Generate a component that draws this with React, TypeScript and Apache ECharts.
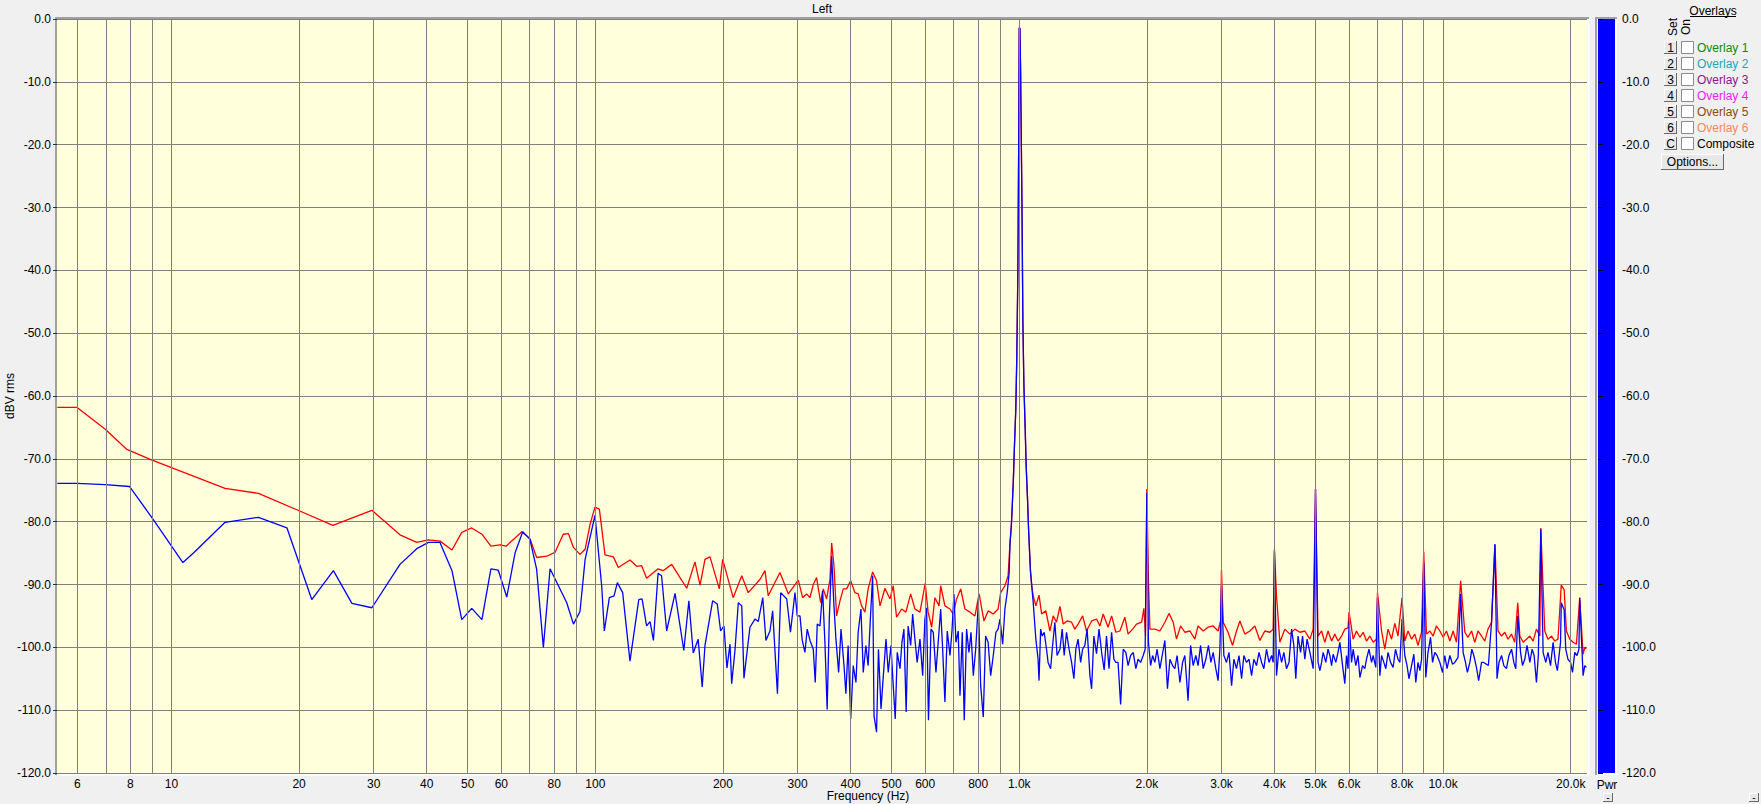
import React, { useEffect, useRef } from "react";
import * as echarts from "echarts";

const FONT = '"Liberation Sans", Arial, sans-serif';

// ---- Spectrum data: [frequency Hz, level dBV] ----
const redLow: [number, number][] = [
  [5.38, -61.8], [5.98, -61.8], [6.98, -65.3], [7.85, -68.5], [8.91, -70.1], [10.0, -71.4],
  [13.38, -74.7], [16.04, -75.5], [19.76, -78.1], [24.03, -80.6], [29.7, -78.2],
];
const redMid: [number, number][] = [
  [34.6, -82.1], [37.9, -83.3], [40.4, -82.9], [43.0, -83.1], [45.9, -84.5], [48.4, -81.7],
  [51.1, -81.0], [54.0, -82.0], [56.7, -83.9], [59.6, -83.7], [61.6, -83.9], [67.1, -81.6],
  [70.1, -82.7], [72.7, -85.7], [76.8, -85.5], [80.3, -84.9], [84.0, -82.0], [86.4, -81.9],
  [88.8, -84.1], [92.0, -85.2], [94.6, -84.4], [97.2, -80.4], [99.8, -77.7], [102.2, -78.0],
  [105.4, -85.3], [110.3, -85.6], [113.3, -87.3], [120.7, -86.1], [125.2, -87.1], [128.6, -87.0],
  [132.1, -89.0], [140.6, -87.5], [144.5, -87.8], [151.4, -86.8], [158.4, -88.9], [164.3, -90.6],
  [171.8, -86.4], [176.6, -90.1], [181.4, -86.0], [186.4, -85.6], [196.1, -90.7], [199.7, -86.0],
  [211.4, -92.1], [221.5, -88.6], [229.5, -91.3], [244.5, -89.2], [251.3, -87.8], [255.8, -91.8],
  [272.6, -88.1], [285.3, -91.5], [301.1, -89.3],
];
const redUpper: [number, number][] = [
  [308.4, -92.1], [315.0, -91.5], [320.9, -92.1], [326.7, -90.0], [332.6, -88.9], [340.1, -92.9],
  [344.9, -90.7], [351.2, -92.3], [357.7, -89.2], [361.0, -83.4], [365.5, -87.0], [370.8, -95.0],
  [377.7, -92.6], [384.5, -90.7], [391.5, -90.7], [400.3, -89.4], [409.7, -91.3], [416.9, -91.5],
  [424.9, -93.4], [432.5, -94.4], [440.1, -90.7], [451.0, -88.0], [460.7, -89.4], [469.4, -93.4],
  [482.2, -90.6], [495.5, -92.3], [504.4, -90.2], [513.6, -95.2], [528.1, -93.9], [540.3, -94.4],
  [554.5, -91.5], [567.4, -93.9], [583.2, -94.4], [600.1, -89.8], [609.6, -94.4], [621.5, -96.8],
  [632.6, -92.1], [647.0, -93.4], [652.7, -90.2], [667.9, -93.4], [686.5, -93.9], [698.9, -94.7],
  [711.6, -92.3], [727.6, -90.7], [744.5, -93.9], [765.3, -94.4], [786.1, -95.0], [804.1, -91.5],
  [825.6, -95.8], [844.5, -94.2], [868.5, -94.7], [891.7, -93.9], [904.1, -91.3], [925.2, -90.2],
  [941.4, -88.6],
];
const fundamental: [number, number][] = [
  [951, -83.5], [958, -80.7], [963, -77.4], [968.7, -73.3], [974, -68.3], [981.5, -62.1],
  [987, -53.6], [992.5, -40.6], [997.7, -17.0], [1000, -1.4], [1004, -1.5], [1007.6, -8.6],
  [1014.7, -28.8], [1020, -48.1], [1025.7, -58.3], [1033, -65.3], [1038.5, -71.2], [1046, -76.3],
  [1051.8, -81.0], [1057.4, -84.5], [1063, -87.9], [1071, -90.4],
];
const redHigh: [number, number][] = [
  [1078.9, -91.8], [1094.5, -93.4], [1113.6, -91.7], [1129.4, -94.7], [1155.6, -94.2], [1181.4, -97.4],
  [1202.7, -95.0], [1224.5, -96.0], [1247.4, -93.5], [1269.9, -96.3], [1297.1, -95.8], [1329.2, -96.0],
  [1352.8, -97.1], [1376.7, -96.3], [1411.1, -95.0], [1441.4, -97.4], [1481.8, -95.8], [1521.8, -95.5],
  [1550.1, -96.6], [1578.0, -94.7], [1620.3, -96.8], [1651.8, -95.0], [1690.1, -97.6], [1728.0, -97.4],
  [1775.0, -95.2], [1806.3, -97.9], [1851.2, -97.1], [1891.0, -96.3], [1944.2, -96.0], [1968.3, -93.8],
  [1986.0, -98.2], [2017.6, -89.4], [2033.8, -97.1], [2089.1, -97.1], [2147.3, -97.4], [2205.7, -96.0],
  [2256.2, -94.6], [2307.9, -96.0], [2349.8, -98.7], [2402.8, -96.6], [2458.8, -97.6], [2527.2, -97.4],
  [2596.0, -98.7], [2641.7, -96.6], [2716.3, -97.4], [2789.2, -96.8], [2867.9, -96.6], [2944.8, -97.4],
  [2985.8, -95.8], [3028.0, -96.0], [3109.3, -97.6], [3186.7, -99.7], [3255.1, -97.4], [3315.8, -95.8],
  [3406.0, -97.9], [3500.8, -97.4], [3596.0, -96.6], [3696.2, -98.9], [3796.7, -97.4], [3902.5, -97.6],
  [3972.7, -97.1], [4045.0, -91.8], [4120.4, -99.2], [4232.5, -97.1], [4350.3, -97.9], [4468.6, -97.1],
  [4593.1, -97.6], [4718.0, -97.4], [4849.5, -98.7],
];
const redTop: [number, number][] = [
  [4936.8, -97.1], [5069.2, -98.2], [5167.7, -97.4], [5259.4, -99.2], [5352.0, -97.4], [5456.2, -99.0],
  [5552.9, -97.9], [5650.8, -99.0], [5760.7, -98.2], [5862.9, -97.1], [5966.2, -96.9], [6134.6, -98.7],
  [6246.1, -97.4], [6362.5, -98.4], [6477.0, -97.6], [6594.7, -99.0], [6717.6, -98.2], [6838.5, -99.2],
  [6962.8, -98.7], [7158.5, -97.4], [7285.4, -100.3], [7413.8, -97.1], [7558.0, -98.7], [7692.0, -96.2],
  [7827.5, -98.2], [8121.3, -99.0], [8264.5, -97.4], [8425.1, -98.7], [8574.5, -97.9], [8725.6, -99.7],
  [8895.4, -97.6], [9135.1, -97.9], [9305.3, -97.4], [9472.8, -98.2], [9645.0, -96.6], [9824.6, -97.4],
  [10001, -98.4], [10183, -97.4], [10373, -99.0], [10560, -97.4], [10752, -99.2], [11250, -97.6],
  [11448, -98.4], [11671, -97.4], [11878, -99.2], [12087, -97.4], [12322, -98.2], [12540, -99.0],
  [12761, -97.1], [13010, -96.0], [13474, -97.4], [13736, -98.2], [13979, -97.6], [14226, -98.7],
  [14503, -97.9], [14760, -99.2], [15171, -98.2], [15444, -99.2], [15725, -98.7], [16017, -98.2],
  [16305, -99.0], [16602, -97.1], [16911, -98.2], [17371, -97.4], [17677, -98.7], [18021, -98.2],
  [18341, -99.0], [18664, -98.7], [19540, -97.4], [19904, -98.7], [20262, -99.2], [20630, -99.5],
  [21392, -101.1], [21586, -100.0], [21781, -100.2],
];
const redHarmonics: [number, number][] = [
  [2000, -74.8], [3000, -87.7], [4000, -84.4], [5000, -74.8], [6000, -94.4], [7000, -91.3],
  [8000, -92.1], [9000, -84.8], [11000, -89.4], [13250, -83.6], [15000, -92.9], [17000, -81.0],
  [19000, -90.1], [19300, -90.8], [21000, -92.1],
];

const blueLow: [number, number][] = [
  [5.38, -73.9], [5.98, -73.9], [6.98, -74.1], [7.96, -74.4], [9.07, -79.7], [10.64, -86.5],
  [11.27, -85.0], [13.38, -80.1], [16.04, -79.3], [18.73, -81.0], [21.43, -92.4], [24.1, -87.8],
  [26.65, -93.0], [29.7, -93.7],
];
const blueMid: [number, number][] = [
  [34.6, -86.8], [37.9, -84.3], [40.4, -83.3], [43.0, -83.3], [45.9, -87.8], [48.4, -95.6],
  [51.1, -93.8], [54.0, -95.6], [56.7, -87.5], [59.0, -87.7], [61.8, -92.0], [64.7, -84.9],
  [67.4, -81.6], [70.1, -82.8], [72.7, -87.6], [75.4, -100.0], [78.2, -87.5], [85.6, -92.9],
  [88.8, -96.3], [92.0, -94.3], [94.6, -86.0], [99.8, -79.0], [103.5, -90.2], [105.0, -97.4],
  [107.9, -92.1], [110.7, -91.8], [112.7, -89.7], [116.0, -91.3], [120.7, -102.2], [126.6, -92.4],
  [128.9, -92.3], [132.1, -96.6], [134.6, -95.9], [137.1, -98.9], [140.6, -88.2], [143.3, -88.6],
  [147.3, -97.4], [154.2, -91.4], [161.7, -100.5], [166.2, -92.6], [170.2, -100.9], [174.8, -98.7],
  [178.7, -106.3], [181.4, -99.7], [189.1, -92.6], [193.9, -93.1], [197.5, -97.4], [201.1, -96.6],
  [204.4, -103.3], [207.8, -99.5], [209.7, -105.8], [213.5, -100.5], [217.4, -92.9], [221.5, -93.4],
  [224.2, -104.9], [231.6, -96.8], [238.0, -95.5], [242.3, -95.9], [248.3, -92.1], [252.6, -98.9],
  [258.2, -97.4], [262.0, -94.2], [268.9, -107.4], [273.7, -91.3], [282.8, -92.3], [288.6, -97.6],
  [295.8, -91.3], [299.5, -95.0],
];
const blueUpper: [number, number][] = [
  [303.9, -95.0], [307.7, -98.9], [312.2, -100.8], [316.1, -97.1], [320.9, -98.9], [326.7, -100.3],
  [330.2, -105.6], [333.8, -96.3], [338.8, -96.6], [343.7, -91.0], [348.0, -99.2], [352.3, -109.9],
  [356.4, -95.5], [361.0, -85.5], [365.5, -93.4], [369.5, -98.7], [374.9, -104.0], [379.8, -97.1],
  [386.0, -102.9], [390.0, -107.4], [394.8, -99.7], [400.3, -111.4], [405.9, -102.9], [411.9, -105.6],
  [416.9, -97.6], [423.3, -93.9], [428.6, -104.0], [434.7, -99.7], [440.1, -102.9], [445.8, -95.0],
  [451.0, -88.6], [454.4, -110.9], [460.7, -113.5], [465.5, -100.3], [472.0, -109.8], [478.0, -104.5],
  [484.9, -98.7], [490.9, -104.0], [498.2, -99.7], [504.4, -106.1], [509.9, -111.4], [515.5, -100.8],
  [523.2, -103.4], [528.9, -99.2], [534.5, -97.1], [541.1, -110.3], [546.9, -96.6], [554.5, -99.7],
  [560.5, -94.7], [567.4, -98.7], [574.4, -102.4], [583.2, -98.7], [591.8, -104.5], [599.1, -95.5],
  [604.5, -93.7], [610.8, -111.6], [619.2, -97.1], [626.9, -97.6], [636.1, -104.0], [643.9, -99.2],
  [652.7, -93.9], [659.7, -100.3], [667.9, -108.7], [676.4, -97.4], [686.5, -101.3], [694.0, -97.4],
  [701.5, -91.5], [709.0, -99.2], [717.9, -97.4], [724.8, -107.7], [733.9, -97.6], [741.8, -111.6],
  [751.3, -97.1], [760.9, -100.8], [769.5, -97.6], [779.3, -104.5], [789.3, -100.3], [800.8, -92.9],
  [811.0, -106.1], [822.6, -111.1], [833.1, -98.2], [844.5, -99.2], [856.3, -104.5], [868.5, -101.3],
  [881.1, -97.6], [891.7, -97.1], [900.7, -95.5], [913.9, -99.5], [925.2, -93.9], [936.7, -91.3],
  [946.9, -88.1],
];
const blueFundTail: [number, number][] = [[1079, -92.9]];
const blueHigh: [number, number][] = [
  [1094.5, -98.7], [1107.8, -101.9], [1113.6, -105.3], [1123.3, -97.1], [1133.0, -98.2], [1145.2, -97.6],
  [1159.8, -100.3], [1169.7, -102.4], [1185.9, -103.4], [1198.8, -99.7], [1213.5, -96.0], [1228.4, -101.3],
  [1247.4, -100.3], [1263.0, -97.1], [1276.6, -101.3], [1292.9, -97.6], [1310.6, -100.3], [1329.2, -102.4],
  [1345.7, -105.0], [1360.1, -100.3], [1376.7, -98.7], [1395.9, -102.4], [1411.1, -100.3], [1428.4, -99.7],
  [1446.0, -97.1], [1468.2, -104.5], [1481.8, -106.6], [1500.2, -98.2], [1521.8, -101.0], [1542.6, -97.1],
  [1564.5, -100.8], [1586.4, -103.6], [1606.7, -98.2], [1628.7, -103.4], [1651.8, -97.6], [1672.3, -101.9],
  [1690.1, -102.4], [1710.7, -102.4], [1734.6, -109.1], [1759.1, -100.3], [1784.5, -100.8], [1806.3, -102.9],
  [1831.3, -101.3], [1857.2, -100.8], [1884.1, -103.4], [1907.1, -101.9], [1933.6, -102.4], [1961.0, -101.3],
  [1982.0, -100.3], [2017.6, -99.2], [2041.5, -102.9], [2063.7, -101.3], [2089.1, -102.4], [2114.7, -100.3],
  [2147.3, -103.4], [2174.1, -101.3], [2205.7, -98.9], [2237.3, -106.6], [2267.1, -101.9], [2300.4, -102.9],
  [2328.8, -103.4], [2357.3, -101.3], [2393.7, -105.6], [2428.9, -102.4], [2458.8, -101.3], [2502.1, -108.5],
  [2536.8, -99.7], [2572.7, -102.9], [2609.8, -101.3], [2641.7, -102.9], [2678.4, -99.7], [2716.3, -103.4],
  [2755.6, -101.9], [2794.8, -99.7], [2832.4, -102.4], [2867.9, -100.8], [2909.3, -103.4], [2944.8, -105.3],
  [2974.5, -100.3], [3039.4, -101.3], [3083.1, -102.4], [3125.3, -100.8], [3169.7, -106.1], [3209.0, -101.9],
  [3255.1, -103.4], [3299.7, -101.3], [3346.6, -105.0], [3388.1, -101.3], [3436.8, -102.4], [3483.9, -101.9],
  [3533.4, -104.5], [3577.1, -101.9], [3628.6, -102.9], [3678.3, -100.8], [3730.6, -102.4], [3776.8, -103.4],
  [3831.1, -100.3], [3883.6, -102.4], [3938.8, -101.3], [3972.7, -102.4], [4045.0, -104.5], [4100.4, -100.3],
  [4158.7, -102.4], [4210.2, -100.8], [4270.8, -103.4], [4329.3, -102.4], [4390.8, -97.1], [4445.1, -99.7],
  [4492.6, -105.0], [4547.4, -98.2], [4610.6, -100.8], [4660.6, -98.2], [4718.0, -101.9], [4775.9, -98.7],
  [4849.5, -100.8],
];
const blueTop: [number, number][] = [
  [4936.8, -103.4], [5069.2, -102.4], [5120.1, -103.7], [5167.7, -102.4], [5212.3, -100.8], [5287.5, -102.4],
  [5352.0, -100.3], [5405.9, -101.3], [5456.2, -102.9], [5503.2, -101.1], [5582.7, -102.4], [5650.8, -100.8],
  [5707.6, -99.2], [5791.5, -102.9], [5862.9, -105.8], [5916.0, -101.3], [5966.2, -103.4], [6082.1, -102.4],
  [6134.6, -100.3], [6223.1, -102.9], [6299.1, -101.3], [6362.5, -104.8], [6456.0, -102.9], [6535.6, -103.4],
  [6594.7, -101.9], [6685.1, -100.3], [6780.1, -102.4], [6838.5, -101.3], [6937.3, -103.2], [7092.5, -104.5],
  [7158.5, -101.3], [7247.1, -102.4], [7324.4, -103.4], [7413.8, -100.8], [7516.8, -102.4], [7623.1, -103.2],
  [7720.4, -100.3], [7827.5, -101.9], [7906.3, -102.4], [8121.3, -101.3], [8221.0, -102.9], [8307.2, -105.0],
  [8425.1, -102.9], [8529.5, -101.1], [8620.5, -105.6], [8725.6, -102.4], [8813.4, -103.7], [8895.4, -101.9],
  [9101.6, -104.8], [9212.7, -100.8], [9340.7, -98.4], [9442.1, -102.4], [9558.4, -100.8], [9675.6, -101.3],
  [9824.6, -102.4], [9969.0, -104.0], [10092, -101.3], [10216, -103.4], [10373, -101.3], [10525, -102.7],
  [10655, -102.4], [10843, -101.6], [11149, -100.8], [11292, -102.4], [11411, -104.0], [11563, -102.4],
  [11689, -100.3], [11815, -101.3], [11985, -103.2], [12130, -105.3], [12322, -102.4], [12474, -102.4],
  [12654, -102.7], [12787, -102.9], [13010, -96.0], [13403, -105.0], [13544, -102.4], [13736, -101.3],
  [13906, -102.9], [14106, -103.4], [14299, -101.3], [14503, -100.3], [14682, -102.4], [14839, -103.4],
  [15229, -100.8], [15394, -102.9], [15584, -101.9], [15775, -99.7], [16017, -102.4], [16217, -100.3],
  [16392, -101.3], [16602, -105.6], [16776, -101.3], [17215, -100.8], [17464, -102.4], [17677, -100.8],
  [17923, -102.9], [18176, -99.2], [18409, -102.4], [18603, -103.7], [18924, -99.2], [19468, -100.3],
  [19706, -101.9], [19980, -102.4], [20197, -104.0], [20445, -100.8], [20696, -101.3], [20913, -100.3],
  [21392, -104.5], [21586, -102.9], [21781, -103.2],
];
const blueHarmonics: [number, number][] = [
  [2000, -75.4], [3000, -90.2], [4000, -84.7], [5000, -74.8], [6000, -95.8], [7000, -92.1],
  [8000, -95.5], [9000, -86.5], [11000, -91.5], [13250, -83.6], [15000, -95.0], [17000, -81.2],
  [19000, -92.9], [19300, -94.0], [21000, -92.1],
];

// ---- Axis ticks ----
const gridFreqs = [6, 7, 8, 9, 10, 20, 30, 40, 50, 60, 70, 80, 90, 100, 200, 300, 400, 500, 600, 700, 800, 900,
  1000, 2000, 3000, 4000, 5000, 6000, 7000, 8000, 9000, 10000, 20000];
const labelFreqs = [6, 8, 10, 20, 30, 40, 50, 60, 80, 100, 200, 300, 400, 500, 600, 800,
  1000, 2000, 3000, 4000, 5000, 6000, 8000, 10000, 20000];
const freqMin = 5.37;
const freqMax = 21850;
const dbMin = -120;
const dbMax = 0;

// ---- Overlay panel ----
const overlayKeys = ["1", "2", "3", "4", "5", "6", "C"];
const overlayNames = ["Overlay 1", "Overlay 2", "Overlay 3", "Overlay 4", "Overlay 5", "Overlay 6", "Composite"];
const overlayColors = ["#0a8a0a", "#18a8b0", "#8a188a", "#f020f0", "#8a4a14", "#f08a5a", "#000000"];

function fmtFreq(f: number) {
  return f >= 1000 ? (f / 1000).toFixed(1) + "k" : String(f);
}

function merge(...parts: [number, number][][]) {
  return parts.flat().slice().sort((a, b) => a[0] - b[0]);
}

function raisedButton(x: number, y: number, w: number, h: number, label: string, fontSize = 12): any[] {
  return [
    { type: "rect", shape: { x, y, width: w, height: h }, style: { fill: "#e8e8e8" } },
    { type: "line", shape: { x1: x, y1: y + 0.5, x2: x + w, y2: y + 0.5 }, style: { stroke: "#ffffff", lineWidth: 1 } },
    { type: "line", shape: { x1: x + 0.5, y1: y, x2: x + 0.5, y2: y + h }, style: { stroke: "#ffffff", lineWidth: 1 } },
    { type: "line", shape: { x1: x, y1: y + h - 0.5, x2: x + w, y2: y + h - 0.5 }, style: { stroke: "#696969", lineWidth: 1 } },
    { type: "line", shape: { x1: x + w - 0.5, y1: y, x2: x + w - 0.5, y2: y + h }, style: { stroke: "#696969", lineWidth: 1 } },
    {
      type: "text", x: x + w / 2, y: y + h / 2,
      style: { text: label, fill: "#000", font: `${fontSize}px ${FONT}`, align: "center", verticalAlign: "middle" },
    },
  ];
}

export default function App() {
  const ref = useRef<HTMLDivElement>(null);

  useEffect(() => {
    const el = ref.current!;
    const chart = echarts.init(el, null, { renderer: "svg" });

    const red = merge(redLow, redMid, redUpper, fundamental, redHigh, redTop, redHarmonics);
    const blue = merge(blueLow, blueMid, blueUpper, fundamental, blueFundTail, blueHigh, blueTop, blueHarmonics);

    const graphics: any[] = [];
    // sunken border around the plot
    graphics.push(
      { type: "line", shape: { x1: 55, y1: 18, x2: 1589, y2: 18 }, style: { stroke: "#a0a0a0", lineWidth: 2 } },
      { type: "line", shape: { x1: 56, y1: 17, x2: 56, y2: 775 }, style: { stroke: "#a0a0a0", lineWidth: 2 } },
      { type: "line", shape: { x1: 57, y1: 774.5, x2: 1589, y2: 774.5 }, style: { stroke: "#ffffff", lineWidth: 2 } },
      { type: "line", shape: { x1: 1588.5, y1: 19, x2: 1588.5, y2: 775 }, style: { stroke: "#ffffff", lineWidth: 2 } },
    );
    // power meter
    graphics.push(
      { type: "rect", shape: { x: 1598, y: 19, width: 17, height: 754 }, style: { fill: "#0000ff" } },
      { type: "line", shape: { x1: 1596, y1: 17, x2: 1596, y2: 775 }, style: { stroke: "#a0a0a0", lineWidth: 2 } },
      { type: "line", shape: { x1: 1595, y1: 18, x2: 1617, y2: 18 }, style: { stroke: "#a0a0a0", lineWidth: 2 } },
      { type: "line", shape: { x1: 1616, y1: 19, x2: 1616, y2: 775 }, style: { stroke: "#ffffff", lineWidth: 2 } },
      { type: "line", shape: { x1: 1597, y1: 774, x2: 1617, y2: 774 }, style: { stroke: "#ffffff", lineWidth: 2 } },
      {
        type: "text", x: 1607, y: 785,
        style: { text: "Pwr", fill: "#000", font: `12px ${FONT}`, align: "center", verticalAlign: "middle" },
      },
    );
    graphics.push(...raisedButton(1603, 793, 10, 9, "-", 10));
    graphics.push(...raisedButton(1749, 793, 10, 9, "-", 10));
    // titles
    graphics.push(
      {
        type: "text", x: 822, y: 9,
        style: { text: "Left", fill: "#000", font: `12px ${FONT}`, align: "center", verticalAlign: "middle" },
      },
      {
        type: "text", x: 868, y: 796,
        style: { text: "Frequency (Hz)", fill: "#000", font: `12px ${FONT}`, align: "center", verticalAlign: "middle" },
      },
      {
        type: "text", x: 10, y: 396, rotation: Math.PI / 2,
        style: { text: "dBV rms", fill: "#000", font: `12px ${FONT}`, align: "center", verticalAlign: "middle" },
      },
    );
    // overlay panel
    graphics.push(
      {
        type: "text", x: 1713, y: 11,
        style: { text: "Overlays", fill: "#000", font: `12px ${FONT}`, align: "center", verticalAlign: "middle" },
      },
      { type: "line", shape: { x1: 1690, y1: 16.5, x2: 1736, y2: 16.5 }, style: { stroke: "#000", lineWidth: 1 } },
      {
        type: "text", x: 1673, y: 27, rotation: Math.PI / 2,
        style: { text: "Set", fill: "#000", font: `12px ${FONT}`, align: "center", verticalAlign: "middle" },
      },
      {
        type: "text", x: 1686, y: 27, rotation: Math.PI / 2,
        style: { text: "On", fill: "#000", font: `12px ${FONT}`, align: "center", verticalAlign: "middle" },
      },
    );
    overlayKeys.forEach((k, i) => {
      const y = 41 + i * 16;
      graphics.push(...raisedButton(1664, y, 13, 13, k));
      graphics.push({
        type: "rect", shape: { x: 1681.5, y: y + 0.5, width: 12, height: 12 },
        style: { fill: "#ffffff", stroke: "#8a8a8a", lineWidth: 1 },
      });
      graphics.push({
        type: "text", x: 1697, y: y + 7,
        style: { text: overlayNames[i], fill: overlayColors[i], font: `12px ${FONT}`, align: "left", verticalAlign: "middle" },
      });
    });
    graphics.push(...raisedButton(1661, 154, 63, 16, "Options..."));

    const option: any = {
      animation: false,
      backgroundColor: "#f0f0f0",
      textStyle: { fontFamily: FONT },
      grid: [
        { left: 57, top: 19, width: 1530, height: 754, show: true, backgroundColor: "#ffffdc", borderWidth: 0 },
        { left: 1598, top: 19, width: 17, height: 754, show: false },
      ],
      xAxis: [
        {
          type: "log", gridIndex: 0, logBase: 10, min: freqMin, max: freqMax,
          axisLine: { show: false }, axisTick: { show: false }, axisLabel: { show: false }, splitLine: { show: false },
        },
        { type: "value", gridIndex: 1, min: 0, max: 1, show: false },
      ],
      yAxis: [
        {
          type: "value", gridIndex: 0, min: dbMin, max: dbMax, interval: 10,
          axisLine: { show: false },
          axisTick: { show: true, length: 4, lineStyle: { color: "#303030" } },
          axisLabel: { color: "#000", fontSize: 12, fontFamily: FONT, margin: 6, formatter: (v: number) => v.toFixed(1) },
          splitLine: { show: true, lineStyle: { color: "#808080", width: 1 } },
        },
        {
          type: "value", gridIndex: 1, position: "right", min: dbMin, max: dbMax, interval: 10,
          axisLine: { show: false },
          axisTick: { show: true, length: 5, lineStyle: { color: "#000" } },
          axisLabel: { color: "#000", fontSize: 12, fontFamily: FONT, margin: 7, formatter: (v: number) => v.toFixed(1) },
          splitLine: { show: false },
        },
      ],
      series: [
        {
          type: "line", xAxisIndex: 0, yAxisIndex: 0, data: [], z: 1, silent: true,
          markLine: {
            silent: true, symbol: ["none", "none"], animation: false,
            lineStyle: { color: "#808080", width: 1, type: "solid" },
            emphasis: { disabled: true },
            data: gridFreqs.map((f) => ({
              xAxis: f,
              label: {
                show: labelFreqs.includes(f), position: "start", distance: 5,
                formatter: fmtFreq(f), color: "#000", fontSize: 12, fontFamily: FONT,
              },
            })),
          },
        },
        {
          name: "Red", type: "line", xAxisIndex: 0, yAxisIndex: 0, data: red, z: 2,
          symbol: "none", clip: true, lineStyle: { color: "#ff0000", width: 1.3 },
        },
        {
          name: "Blue", type: "line", xAxisIndex: 0, yAxisIndex: 0, data: blue, z: 3,
          symbol: "none", clip: true, lineStyle: { color: "#0000ff", width: 1.3 },
        },
      ],
      graphic: { elements: graphics },
    };

    chart.setOption(option);
    return () => chart.dispose();
  }, []);

  return (
    <div
      ref={ref}
      style={{ position: "absolute", left: 0, top: 0, width: 1761, height: 804 }}
    />
  );
}
